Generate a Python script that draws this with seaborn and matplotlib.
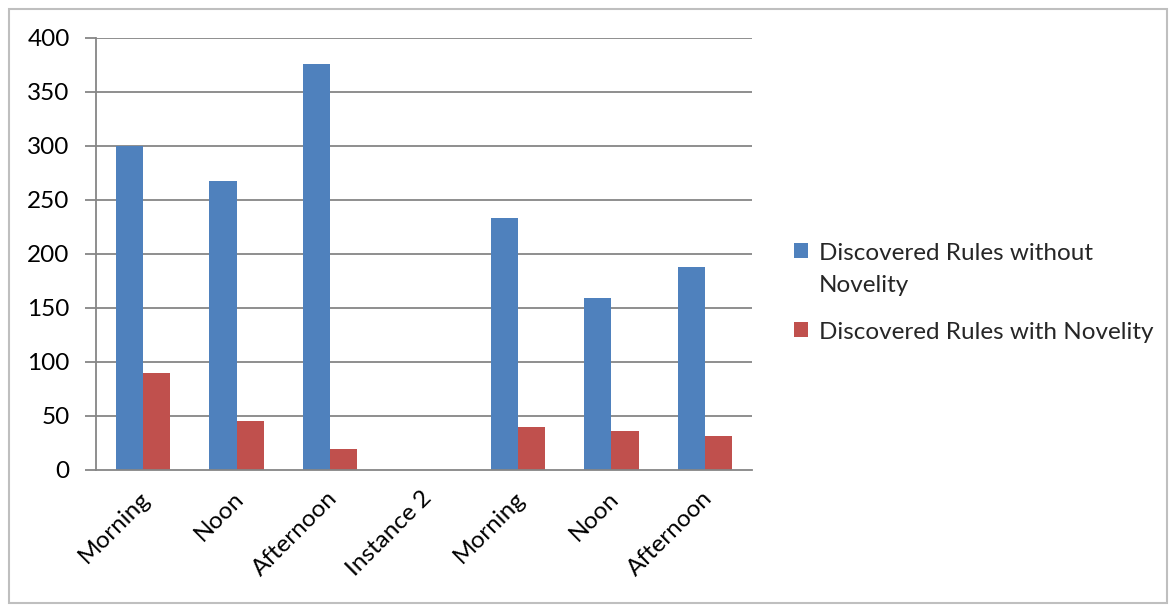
import numpy as np
import pandas as pd
import matplotlib
matplotlib.use("Agg")
import matplotlib.pyplot as plt
from matplotlib.patches import Rectangle, Patch
from matplotlib.transforms import ScaledTranslation
import seaborn as sns

# ---- data ----
categories = ["Morning", "Noon", "Afternoon", "Instance 2", "Morning", "Noon", "Afternoon"]
without_novelty = [300, 267, 376, 0, 233, 159, 188]
with_novelty = [90, 45, 19, 0, 40, 36, 31]
series_names = ["Discovered Rules without\nNovelity", "Discovered Rules with Novelity"]
y_ticks = [0, 50, 100, 150, 200, 250, 300, 350, 400]

sns.set_theme(style="white")
plt.rcParams["font.family"] = ["Lato", "DejaVu Sans"]

BLUE = "#4F81BD"
RED = "#C0504D"
GRID = "#868686"
FS = 17.5

keys = [f"c{i}" for i in range(len(categories))]
df = pd.DataFrame({
    "key": keys * 2,
    "value": without_novelty + with_novelty,
    "series": [series_names[0]] * len(keys) + [series_names[1]] * len(keys),
})

fig = plt.figure(figsize=(11.76, 6.06), dpi=100)
ax = fig.add_axes([96 / 1176, 1 - 470 / 606, (752 - 96) / 1176, (470 - 37.7) / 606])

sns.barplot(data=df, x="key", y="value", hue="series", order=keys,
            hue_order=series_names, palette=[BLUE, RED], width=0.58,
            dodge=True, gap=0, saturation=1, legend=False, ax=ax,
            edgecolor="none", linewidth=0, errorbar=None)

ax.set_ylim(0, 400)
ax.set_xlim(-0.5, len(keys) - 0.5)
ax.set_yticks(y_ticks)
ax.set_yticklabels([str(v) for v in y_ticks], fontsize=FS, color="black")
for v in y_ticks[1:]:
    ax.axhline(v, color=GRID, lw=1.3, zorder=0)
ax.set_axisbelow(True)

ax.set_xticks(range(len(keys)))
ax.set_xticklabels(categories, fontsize=FS, rotation=45, ha="right",
                   va="center", rotation_mode="anchor", color="black")
ax.set_xticks(np.arange(-0.5, len(keys), 1), minor=True)
ax.tick_params(axis="x", which="major", length=0, pad=18)
ax.tick_params(axis="x", which="minor", length=7, width=1.3, color=GRID, direction="out")
ax.tick_params(axis="y", which="major", length=8, width=1.3, color=GRID, direction="out", pad=11, left=True)
ax.set_xlabel("")
ax.set_ylabel("")

for lab in ax.get_xticklabels():
    lab.set_transform(lab.get_transform() + ScaledTranslation(4 / 100, 0, fig.dpi_scale_trans))

for s in ["top", "right"]:
    ax.spines[s].set_visible(False)
for s in ["left", "bottom"]:
    ax.spines[s].set_color(GRID)
    ax.spines[s].set_linewidth(1.3)

handles = [Patch(facecolor=BLUE, edgecolor="none"), Patch(facecolor=RED, edgecolor="none")]
leg = fig.legend(handles, series_names, loc="upper left",
                 bbox_to_anchor=(784 / 1176, 1 - 233 / 606), frameon=False,
                 fontsize=FS, handlelength=0.6, handleheight=0.6, handletextpad=0.45,
                 labelspacing=1.08, borderaxespad=0)
for t in leg.get_texts():
    t.set_linespacing(1.65)
for col in leg._legend_handle_box.get_children():
    for item in col.get_children():
        item.align = "top"

fig.patches.append(Rectangle((9 / 1176, 3 / 606), 1158 / 1176, 594 / 606,
                             transform=fig.transFigure, fill=False,
                             edgecolor="#BFBFBF", lw=1.5))

fig.savefig("out.png", dpi=100)
